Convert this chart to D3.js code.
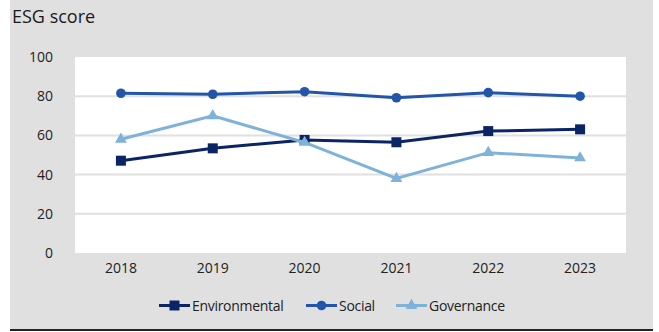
<!DOCTYPE html>
<html>
<head>
<meta charset="utf-8">
<script src="https://cdn.jsdelivr.net/npm/d3@7"></script>
<style>
  html, body { margin:0; padding:0; background:#fff; }
  svg { display:block; font-family:"Open Sans", sans-serif; }
</style>
</head>
<body>
<div id="chart"></div>
<script>
const years = ["2018","2019","2020","2021","2022","2023"];
const environmental = [47.1, 53.4, 57.7, 56.5, 62.2, 63.1];
const social = [81.5, 81, 82.3, 79.2, 81.8, 80];
const governance = [58, 70, 56.4, 38, 51.2, 48.5];
const yTicks = [0, 20, 40, 60, 80, 100];

const series = [
    { name:"Environmental", values:environmental, color:"#0b2466", marker:"square" },
    { name:"Social", values:social, color:"#2356a8", marker:"circle" },
    { name:"Governance", values:governance, color:"#7eb2d8", marker:"triangle" }
];

const W = 659, H = 332;
const plot = { left:75, right:626, top:57, bottom:253 };

const svg = d3.select("#chart").append("svg").attr("width",W).attr("height",H);

// panel background
svg.append("rect").attr("x",10).attr("y",0).attr("width",643).attr("height",329).attr("fill","#e0e0e0");
svg.append("line").attr("x1",10).attr("x2",653).attr("y1",330).attr("y2",330)
    .attr("stroke","#222").attr("stroke-width",2);

svg.append("text").attr("x",12).attr("y",23)
    .style("font-size","18px").style("fill","#1a1a1a").text("ESG score");

// plot area
svg.append("rect").attr("x",plot.left).attr("y",plot.top)
    .attr("width",plot.right-plot.left).attr("height",plot.bottom-plot.top).attr("fill","#fff");

const x = d3.scaleBand().domain(years).range([plot.left,plot.right]);
const y = d3.scaleLinear().domain([0,100]).range([plot.bottom,plot.top]);

// grid
svg.append("g").selectAll("line").data(yTicks.filter(d=>d>0 && d<100))
    .join("line")
    .attr("x1",plot.left).attr("x2",plot.right)
    .attr("y1",d=>y(d)).attr("y2",d=>y(d))
    .attr("stroke","#e0e0e0").attr("stroke-width",2);

// y axis
const yAxis = svg.append("g").attr("transform",`translate(${plot.left},0)`)
    .call(d3.axisLeft(y).tickValues(yTicks).tickSize(0).tickPadding(22));
yAxis.select(".domain").remove();
yAxis.selectAll("text").style("font-size","14px").style("fill","#222").style("font-family","'Open Sans', sans-serif");

// x axis
const xAxis = svg.append("g").attr("transform",`translate(0,${plot.bottom})`)
    .call(d3.axisBottom(x).tickSize(0).tickPadding(10));
xAxis.select(".domain").remove();
xAxis.selectAll("text").style("font-size","14px").style("fill","#222").style("font-family","'Open Sans', sans-serif");

const cx = d=>x(d.year)+x.bandwidth()/2;
const line = d3.line().x(cx).y(d=>y(d.value));

function drawMarker(g, type, color) {
    if (type==="square") g.append("rect").attr("x",-5).attr("y",-5).attr("width",10).attr("height",10).attr("fill",color);
    else if (type==="circle") g.append("circle").attr("r",4.8).attr("fill",color);
    else g.append("path").attr("d",d3.symbol(d3.symbolTriangle,60)()).attr("fill",color);
}

series.forEach(s=>{
    const pts = years.map((yr,i)=>({year:yr, value:s.values[i]}));
    svg.append("path").datum(pts).attr("d",line)
        .attr("fill","none").attr("stroke",s.color).attr("stroke-width",3);
    svg.append("g").selectAll("g").data(pts).join("g")
        .attr("transform",d=>`translate(${cx(d)},${y(d.value)})`)
        .each(function(){ drawMarker(d3.select(this), s.marker, s.color); });
});

// legend
const legendX = [159, 306, 396];
const ly = 305.5;
series.forEach((s,i)=>{
    const g = svg.append("g").attr("transform",`translate(${legendX[i]},${ly})`);
    g.append("line").attr("x1",0).attr("x2",31).attr("y1",0).attr("y2",0)
        .attr("stroke",s.color).attr("stroke-width",3);
    const m = g.append("g").attr("transform","translate(15.5,0)");
    drawMarker(m, s.marker, s.color);
    g.append("text").attr("x",33).attr("y",5).style("font-size","14px").style("fill","#222")
        .style("letter-spacing","-0.3px").text(s.name);
});
</script>
</body>
</html>
